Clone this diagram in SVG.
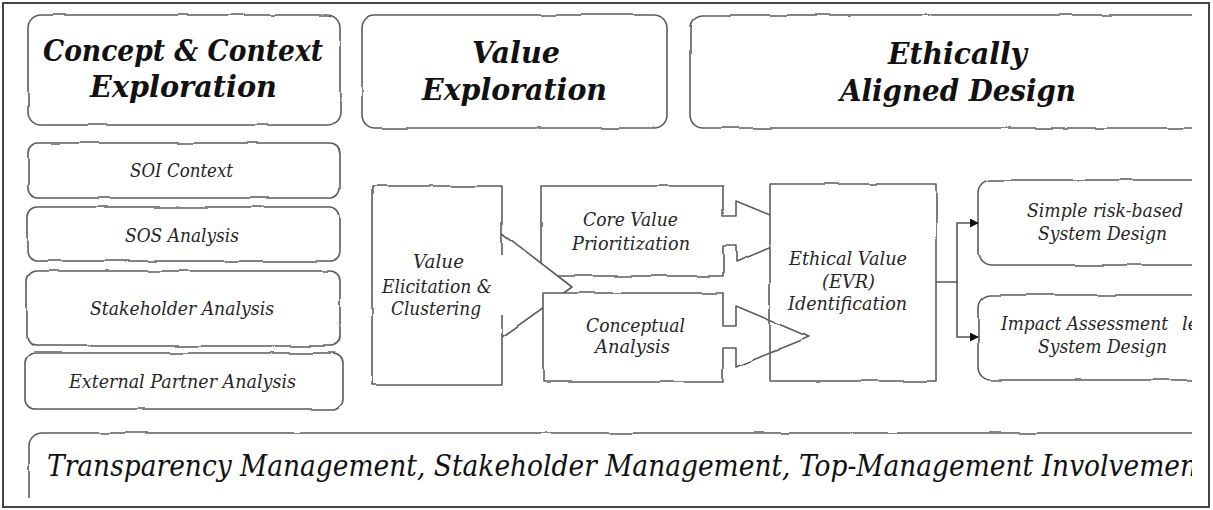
<svg xmlns="http://www.w3.org/2000/svg" width="1213" height="510" viewBox="0 0 1213 510">
  <style>
    .box { fill: #ffffff; stroke: #5c5c5c; stroke-width: 1.6; stroke-linejoin: round; }
    .line { fill: none; stroke: #5c5c5c; stroke-width: 1.6; stroke-linejoin: round; }
    .title { font-family: "DejaVu Serif", "Liberation Serif", serif; font-weight: bold; font-style: italic; font-size: 29px; fill: #111111; }
    .lbl { font-family: "DejaVu Serif", "Liberation Serif", serif; font-style: italic; font-size: 18px; fill: #262626; }
    .foot { font-family: "DejaVu Serif", "Liberation Serif", serif; font-style: italic; font-size: 29px; fill: #111111; }
    .conn { fill: none; stroke: #555555; stroke-width: 1.6; }
  </style>
  <defs>
    <clipPath id="view">
      <rect x="0" y="0" width="1192" height="498"/>
    </clipPath>
    <!-- gentle wobble for hand-drawn outlines -->
    <filter id="rough" x="-5%" y="-5%" width="110%" height="110%">
      <feTurbulence type="fractalNoise" baseFrequency="0.025" numOctaves="2" seed="4" result="noise"/>
      <feDisplacementMap in="SourceGraphic" in2="noise" scale="3" xChannelSelector="R" yChannelSelector="G"/>
    </filter>
    <marker id="arrow" viewBox="0 0 10 10" refX="9" refY="5" markerWidth="9" markerHeight="9" markerUnits="userSpaceOnUse" orient="auto">
      <path d="M0,0 L10,5 L0,10 Z" fill="#111111"/>
    </marker>
  </defs>

  <rect x="0" y="0" width="1213" height="510" fill="#ffffff"/>
  <!-- outer frame -->
  <rect x="3" y="3" width="1206" height="504" fill="none" stroke="#444444" stroke-width="2"/>

  <g clip-path="url(#view)">
    <!-- phase headers -->
    <g id="concept-context">
      <rect class="box" x="28" y="15" width="312" height="110" rx="13" filter="url(#rough)"/>
      <text class="title" x="43" y="61" textLength="280" lengthAdjust="spacingAndGlyphs">Concept &amp; Context</text>
      <text class="title" x="90" y="97" textLength="187" lengthAdjust="spacingAndGlyphs">Exploration</text>
    </g>
    <g id="value-exploration">
      <rect class="box" x="362" y="15" width="305" height="113" rx="13" filter="url(#rough)"/>
      <text class="title" x="472" y="63" textLength="88" lengthAdjust="spacingAndGlyphs">Value</text>
      <text class="title" x="422" y="100" textLength="185" lengthAdjust="spacingAndGlyphs">Exploration</text>
    </g>
    <g id="ethically-aligned">
      <rect class="box" x="690" y="15" width="560" height="113" rx="13" filter="url(#rough)"/>
      <text class="title" x="888" y="64" textLength="139" lengthAdjust="spacingAndGlyphs">Ethically</text>
      <text class="title" x="840" y="101" textLength="236" lengthAdjust="spacingAndGlyphs">Aligned Design</text>
    </g>

    <!-- context analyses -->
    <g id="soi-context">
      <rect class="box" x="28" y="143" width="312" height="55" rx="10" filter="url(#rough)"/>
      <text class="lbl" x="130" y="177" textLength="103" lengthAdjust="spacingAndGlyphs">SOI Context</text>
    </g>
    <g id="sos-analysis">
      <rect class="box" x="27" y="207" width="313" height="54" rx="10" filter="url(#rough)"/>
      <text class="lbl" x="125" y="242" textLength="114" lengthAdjust="spacingAndGlyphs">SOS Analysis</text>
    </g>
    <g id="stakeholder-analysis">
      <rect class="box" x="27" y="271" width="313" height="75" rx="10" filter="url(#rough)"/>
      <text class="lbl" x="90" y="315" textLength="184" lengthAdjust="spacingAndGlyphs">Stakeholder Analysis</text>
    </g>
    <g id="external-partner">
      <rect class="box" x="25" y="353" width="318" height="56" rx="10" filter="url(#rough)"/>
      <text class="lbl" x="69" y="388" textLength="227" lengthAdjust="spacingAndGlyphs">External Partner Analysis</text>
    </g>

    <!-- value exploration flow (block arrows) -->
    <g id="core-value">
      <path class="box" filter="url(#rough)" d="M541,186 H723 V216 H736 V201 L809,231 L736,262 V246 H723 V276 H541 Z"/>
      <text class="lbl" x="583" y="226" textLength="95" lengthAdjust="spacingAndGlyphs">Core Value</text>
      <text class="lbl" x="572" y="250" textLength="118" lengthAdjust="spacingAndGlyphs">Prioritization</text>
    </g>
    <g id="evr-identification">
      <rect class="box" x="770" y="184" width="166" height="197" filter="url(#rough)"/>
      <text class="lbl" x="789" y="265" textLength="118" lengthAdjust="spacingAndGlyphs">Ethical Value</text>
      <text class="lbl" x="822" y="288" textLength="53" lengthAdjust="spacingAndGlyphs">(EVR)</text>
      <text class="lbl" x="788" y="310" textLength="119" lengthAdjust="spacingAndGlyphs">Identification</text>
    </g>
    <g id="value-elicitation">
      <g filter="url(#rough)">
        <path d="M372,186 H502 V233 L572,287 L502,337 V385 H372 Z" fill="#ffffff" stroke="none"/>
        <path class="line" d="M502,255 V186 H372 V385 H502 V315 M502,233 L572,287 L502,337"/>
      </g>
      <text class="lbl" x="413" y="268" textLength="51" lengthAdjust="spacingAndGlyphs">Value</text>
      <text class="lbl" x="382" y="293" textLength="110" lengthAdjust="spacingAndGlyphs">Elicitation &amp;</text>
      <text class="lbl" x="391" y="315" textLength="90" lengthAdjust="spacingAndGlyphs">Clustering</text>
    </g>
    <g id="conceptual-analysis">
      <g filter="url(#rough)">
        <rect x="543" y="293" width="180" height="89" fill="#ffffff"/>
        <path class="line" d="M543,293 H723 V326 H736 V306 L809,337 L736,367 V348 H723 V382 H543 Z"/>
      </g>
      <text class="lbl" x="586" y="332" textLength="99" lengthAdjust="spacingAndGlyphs">Conceptual</text>
      <text class="lbl" x="595" y="353" textLength="75" lengthAdjust="spacingAndGlyphs">Analysis</text>
    </g>

    <!-- design options -->
    <g id="risk-based-design">
      <rect class="box" x="978" y="180" width="260" height="85" rx="13" filter="url(#rough)"/>
      <text class="lbl" x="1027" y="217" textLength="156" lengthAdjust="spacingAndGlyphs">Simple risk-based</text>
      <text class="lbl" x="1038" y="240" textLength="129" lengthAdjust="spacingAndGlyphs">System Design</text>
    </g>
    <g id="impact-design">
      <rect class="box" x="978" y="295" width="260" height="85" rx="13" filter="url(#rough)"/>
      <text class="lbl" x="1001" y="330"><tspan textLength="167" lengthAdjust="spacingAndGlyphs">Impact Assessment</tspan><tspan x="1182">le</tspan></text>
      <text class="lbl" x="1038" y="353" textLength="129" lengthAdjust="spacingAndGlyphs">System Design</text>
    </g>

    <!-- management layer -->
    <g id="management">
      <rect class="box" x="29" y="433" width="1200" height="100" rx="13" filter="url(#rough)"/>
      <text class="foot" x="47" y="476" textLength="1150" lengthAdjust="spacingAndGlyphs">Transparency Management, Stakeholder Management, Top-Management Involvemen</text>
    </g>

    <!-- connectors -->
    <g id="connectors">
      <path class="conn" d="M936,282 H957 V223 H978" marker-end="url(#arrow)"/>
      <path class="conn" d="M957,282 V337 H978" marker-end="url(#arrow)"/>
    </g>
  </g>
</svg>
